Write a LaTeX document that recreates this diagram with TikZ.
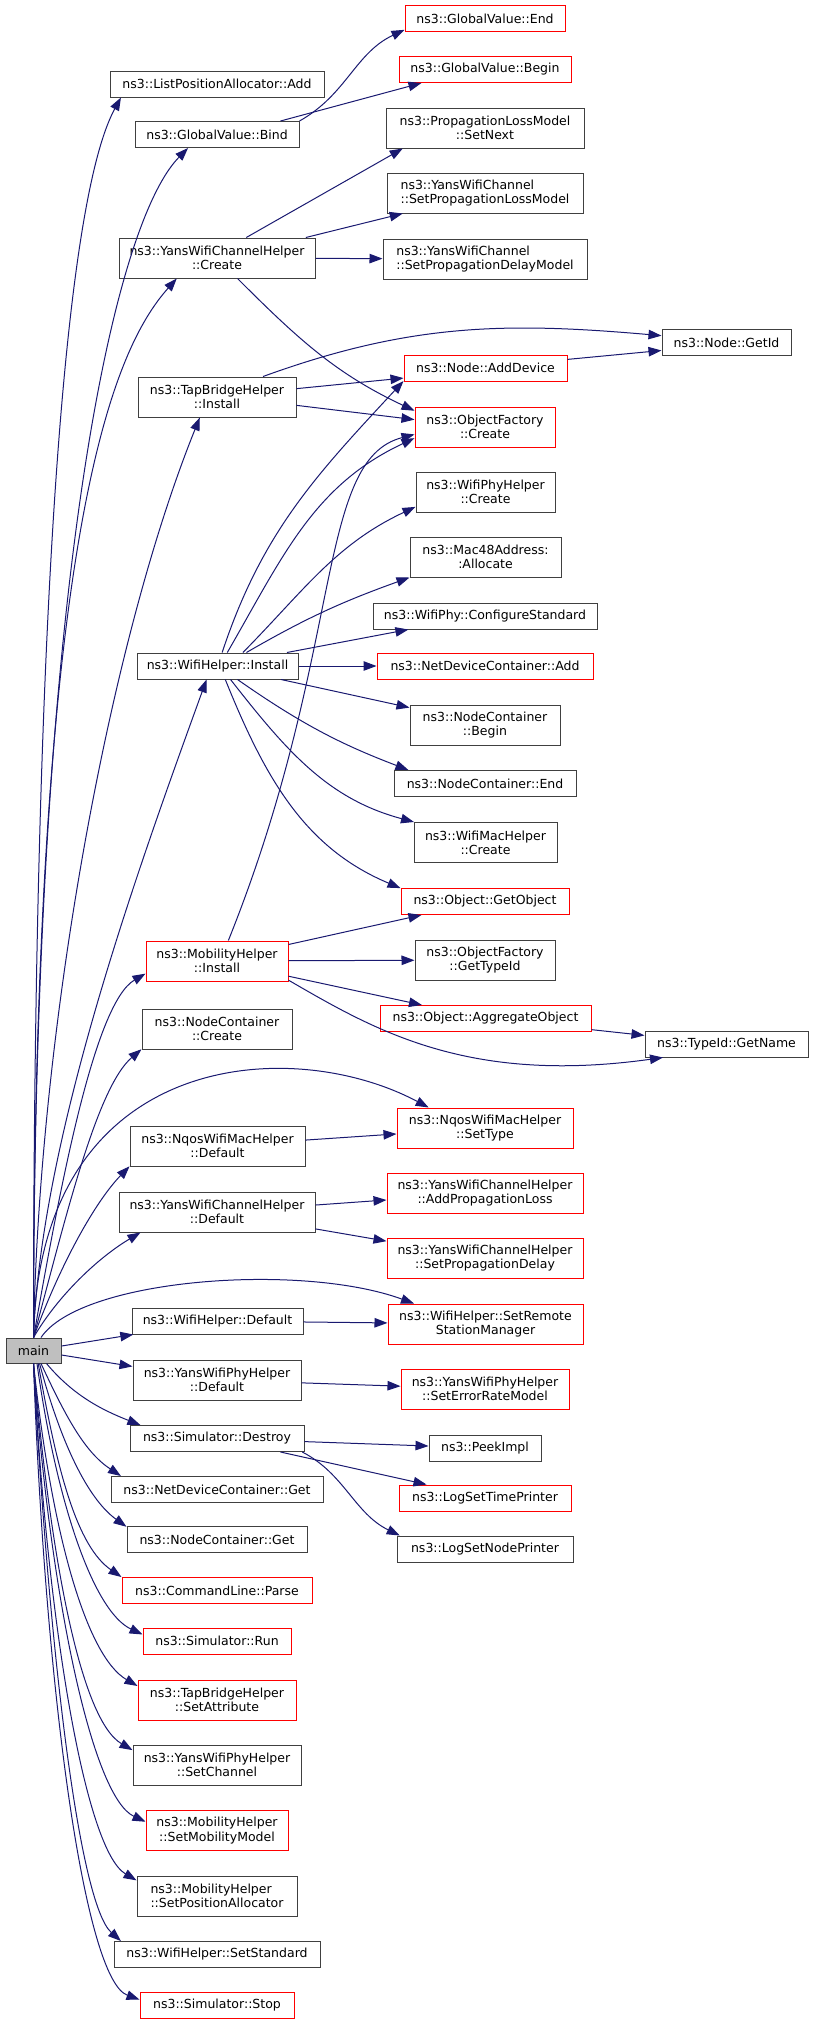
\documentclass[tikz,border=0pt]{standalone}
\usepackage{fontspec}
\setmainfont{DejaVu Sans}
\usepackage{xcolor}
\usepackage{tikz}
\usetikzlibrary{arrows.meta}
\definecolor{edgeblue}{RGB}{25,25,112}
\definecolor{boxgrey}{RGB}{64,64,64}
\definecolor{mainfill}{RGB}{191,191,191}

\begin{document}
\begin{tikzpicture}[
    x=1pt, y=1pt,
    fn/.style={draw=boxgrey, fill=white, line width=1pt, inner sep=1pt, align=center,
      minimum height=26pt, font=\fontsize{12.5}{14.3}\selectfont},
    fnred/.style={fn, draw=red},
    two/.style={minimum height=40pt},
    call/.style={-{Triangle[length=13pt,width=9.5pt]}, draw=edgeblue, line width=1pt},
  ]
  \useasboundingbox (0,0) rectangle (813,-2024);

  % Caller
  \node[fn, fill=mainfill, minimum width=55pt, minimum height=25pt] (main) at (33.5,-1350.5) {main};

  % Functions called by main
  \node[fn, minimum width=214pt] (lpa) at (217,-84) {ns3::ListPositionAllocator::Add};
  \node[fn, minimum width=164pt] (gvbind) at (217,-134.5) {ns3::GlobalValue::Bind};
  \node[fn, two, minimum width=196pt] (ywchcreate) at (217,-258) {ns3::YansWifiChannelHelper\\::Create};
  \node[fn, two, minimum width=158pt] (tbhinstall) at (217,-397) {ns3::TapBridgeHelper\\::Install};
  \node[fn, minimum width=161pt] (whinstall) at (217.5,-666) {ns3::WifiHelper::Install};
  \node[fnred, two, minimum width=142pt] (mhinstall) at (217,-961) {ns3::MobilityHelper\\::Install};
  \node[fn, two, minimum width=150pt] (nccreate) at (217,-1029) {ns3::NodeContainer\\::Create};
  \node[fn, two, minimum width=175pt] (nqosdefault) at (217.5,-1146) {ns3::NqosWifiMacHelper\\::Default};
  \node[fn, two, minimum width=196pt] (ywchdefault) at (217,-1212) {ns3::YansWifiChannelHelper\\::Default};
  \node[fn, minimum width=171pt] (whdefault) at (217.5,-1321) {ns3::WifiHelper::Default};
  \node[fn, two, minimum width=168pt] (ywphdefault) at (217,-1380) {ns3::YansWifiPhyHelper\\::Default};
  \node[fn, minimum width=174pt] (simdestroy) at (217,-1438.5) {ns3::Simulator::Destroy};
  \node[fn, minimum width=212pt] (ndcget) at (217,-1489.5) {ns3::NetDeviceContainer::Get};
  \node[fn, minimum width=180pt] (ncget) at (217,-1539.5) {ns3::NodeContainer::Get};
  \node[fnred, minimum width=190pt] (clparse) at (217,-1590.5) {ns3::CommandLine::Parse};
  \node[fnred, minimum width=148pt] (simrun) at (217,-1641) {ns3::Simulator::Run};
  \node[fnred, two, minimum width=158pt] (tbhsetattr) at (217,-1700) {ns3::TapBridgeHelper\\::SetAttribute};
  \node[fn, two, minimum width=168pt] (ywphsetch) at (217,-1765) {ns3::YansWifiPhyHelper\\::SetChannel};
  \node[fnred, two, minimum width=142pt] (mhsetmob) at (217,-1830.5) {ns3::MobilityHelper\\::SetMobilityModel};
  \node[fn, two, minimum width=160pt, align=left] (mhsetpos) at (217,-1896) {ns3::MobilityHelper\\::SetPositionAllocator};
  \node[fn, minimum width=206pt] (whsetstd) at (217,-1954.5) {ns3::WifiHelper::SetStandard};
  \node[fnred, minimum width=154pt] (simstop) at (217,-2005) {ns3::Simulator::Stop};

  % Second level
  \node[fnred, minimum width=160pt] (gvend) at (485,-18.5) {ns3::GlobalValue::End};
  \node[fnred, minimum width=172pt] (gvbegin) at (485,-69.5) {ns3::GlobalValue::Begin};
  \node[fn, two, minimum width=198pt] (plmsetnext) at (485,-128) {ns3::PropagationLossModel\\::SetNext};
  \node[fn, two, minimum width=196pt, align=left] (ywcsetloss) at (485,-193) {ns3::YansWifiChannel\\::SetPropagationLossModel};
  \node[fn, two, minimum width=204pt, align=left] (ywcsetdelay) at (485,-259) {ns3::YansWifiChannel\\::SetPropagationDelayModel};
  \node[fnred, minimum width=163pt] (adddevice) at (485.5,-368) {ns3::Node::AddDevice};
  \node[fnred, two, minimum width=140pt] (ofcreate) at (485,-427) {ns3::ObjectFactory\\::Create};
  \node[fn, two, minimum width=139pt] (wphcreate) at (485.5,-492) {ns3::WifiPhyHelper\\::Create};
  \node[fn, two, minimum width=151pt] (macalloc) at (485.5,-557) {ns3::Mac48Address:\\:Allocate};
  \node[fn, minimum width=224pt] (confstd) at (485,-616) {ns3::WifiPhy::ConfigureStandard};
  \node[fnred, minimum width=216pt] (ndcadd) at (485,-666) {ns3::NetDeviceContainer::Add};
  \node[fn, two, minimum width=150pt] (ncbegin) at (485,-725) {ns3::NodeContainer\\::Begin};
  \node[fn, minimum width=182pt] (ncend) at (485,-783.5) {ns3::NodeContainer::End};
  \node[fn, two, minimum width=143pt] (wmhcreate) at (485.5,-842.5) {ns3::WifiMacHelper\\::Create};
  \node[fnred, minimum width=168pt] (getobject) at (485,-901.5) {ns3::Object::GetObject};
  \node[fn, two, minimum width=140pt] (oftypeid) at (485,-960) {ns3::ObjectFactory\\::GetTypeId};
  \node[fnred, minimum width=211pt] (aggregate) at (485.5,-1018.5) {ns3::Object::AggregateObject};
  \node[fnred, two, minimum width=176pt] (settype) at (485,-1128) {ns3::NqosWifiMacHelper\\::SetType};
  \node[fnred, two, minimum width=196pt] (addloss) at (485,-1193) {ns3::YansWifiChannelHelper\\::AddPropagationLoss};
  \node[fnred, two, minimum width=196pt] (setdelay) at (485,-1258) {ns3::YansWifiChannelHelper\\::SetPropagationDelay};
  \node[fnred, two, minimum width=195pt] (setrsm) at (485.5,-1324) {ns3::WifiHelper::SetRemote\\StationManager};
  \node[fnred, two, minimum width=168pt] (seterm) at (485,-1389) {ns3::YansWifiPhyHelper\\::SetErrorRateModel};
  \node[fn, minimum width=112pt] (peekimpl) at (485,-1448) {ns3::PeekImpl};
  \node[fnred, minimum width=172pt] (logtime) at (485,-1498) {ns3::LogSetTimePrinter};
  \node[fn, minimum width=176pt] (lognode) at (485,-1549) {ns3::LogSetNodePrinter};

  % Third level
  \node[fn, minimum width=129pt] (getid) at (726.5,-342.5) {ns3::Node::GetId};
  \node[fn, minimum width=163pt] (getname) at (726.5,-1044) {ns3::TypeId::GetName};

  % Calls made by main, upwards
  \draw[call] (main.north) .. controls (33.5,-688) and (59.5,-210) .. (lpa.188);
  \draw[call] (main.north) .. controls (33.5,-588) and (112.4,-224.8) .. (gvbind.-155);
  \draw[call] (main.north) .. controls (33.5,-538) and (110.8,-352.3) .. (ywchcreate.-153);
  \draw[call] (main.north) .. controls (38.7,-1038) and (106.5,-648.8) .. (tbhinstall.-130);
  \draw[call] (main.north) .. controls (40.5,-1138) and (138.6,-867) .. (whinstall.-129);
  \draw[call] (main.north) .. controls (59.5,-1190.3) and (94,-1003.5) .. (mhinstall.190);
  \draw[call] (main.north) .. controls (64.6,-1222) and (96.4,-1087.6) .. (nccreate.195);
  \draw[call] (main.north) .. controls (38.5,-1050) and (290.5,-1033.9) .. (settype.160);
  \draw[call] (main.north) .. controls (60.9,-1262.8) and (95.5,-1201.4) .. (nqosdefault.193);
  \draw[call] (main.north) .. controls (58.5,-1294.7) and (99.1,-1257) .. (ywchdefault.195);
  \draw[call] (main.60) .. controls (81,-1278.3) and (301.2,-1262.3) .. (setrsm.164);
  % Calls made by main, sideways and downwards
  \draw[call] (main) -- (whdefault);
  \draw[call] (main) -- (ywphdefault);
  \draw[call] (main.-45) .. controls (71.7,-1393.6) and (99,-1408.9) .. (simdestroy.170);
  \draw[call] (main.-60) .. controls (66.1,-1417.4) and (84.7,-1452) .. (ndcget.172);
  \draw[call] (main.-65) .. controls (60,-1440.3) and (87,-1498.3) .. (ncget.172);
  \draw[call] (main.-70) .. controls (57.1,-1471.3) and (77,-1546.5) .. (clparse.north west);
  \draw[call] (main.-75) .. controls (56.3,-1501.6) and (93.2,-1611.2) .. (simrun.175);
  \draw[call] (main.south) .. controls (51.3,-1532) and (86,-1656) .. (tbhsetattr.170);
  \draw[call] (main.south) .. controls (50.9,-1562.2) and (81,-1720) .. (ywphsetch.170);
  \draw[call] (main.south) .. controls (49.5,-1592.4) and (91.6,-1796.6) .. (mhsetmob.173);
  \draw[call] (main.south) .. controls (47.1,-1622.6) and (85,-1850) .. (mhsetpos.169);
  \draw[call] (main.south) .. controls (48.2,-1642.6) and (78.5,-1903.4) .. (whsetstd.172);
  \draw[call] (main.south) .. controls (44.7,-1682.8) and (83.6,-1979.5) .. (simstop.176);

  % Calls made by the second column
  \draw[call] (gvbind.north east) .. controls (346.6,-94.5) and (355.2,-53) .. (gvend.188);
  \draw[call] (gvbind.12) -- (gvbegin.-168);
  \draw[call] (ywchcreate.35) -- (plmsetnext.-166);
  \draw[call] (ywchcreate.13) -- (ywcsetloss.-166);
  \draw[call] (ywchcreate) -- (ywcsetdelay);
  \draw[call] (ywchcreate.-45) .. controls (298.5,-339.5) and (336.2,-374) .. (ofcreate.167);
  \draw[call] (tbhinstall.24) .. controls (409.5,-323.3) and (505.6,-322) .. (getid.174);
  \draw[call] (tbhinstall.6) -- (adddevice.187);
  \draw[call] (tbhinstall.-6) -- (ofcreate.174);
  \draw[call] (whinstall.71) .. controls (262,-532) and (316.7,-474.5) .. (adddevice.189);
  \draw[call] (whinstall.54) .. controls (283,-556) and (313.5,-485.4) .. (ofcreate.189);
  \draw[call] (whinstall.28) .. controls (304.5,-590) and (335.4,-544.4) .. (wphcreate.192);
  \draw[call] (whinstall.25) .. controls (306.9,-617.5) and (343.3,-601.3) .. (macalloc.south west);
  \draw[call] (whinstall.11) -- (confstd.-170);
  \draw[call] (whinstall) -- (ndcadd);
  \draw[call] (whinstall.-12) -- (ncbegin.167);
  \draw[call] (whinstall.-34) .. controls (300.7,-723.7) and (340.8,-744.3) .. (ncend.170);
  \draw[call] (whinstall.-46) .. controls (287.1,-751.9) and (328.1,-799) .. (wmhcreate.164);
  \draw[call] (whinstall.-60) .. controls (265.6,-779.6) and (305.4,-848.3) .. (getobject.171);
  \draw[call] (mhinstall.61) .. controls (345,-650) and (315,-460) .. (ofcreate.186);
  \draw[call] (mhinstall.13) -- (getobject.-168);
  \draw[call] (mhinstall) -- (oftypeid);
  \draw[call] (mhinstall.-12) -- (aggregate.168);
  \draw[call] (mhinstall.-15) .. controls (374.6,-1030) and (467.3,-1084.8) .. (getname.-168);
  \draw[call] (nqosdefault) -- (settype);
  \draw[call] (ywchdefault) -- (addloss);
  \draw[call] (ywchdefault) -- (setdelay);
  \draw[call] (whdefault) -- (setrsm);
  \draw[call] (ywphdefault) -- (seterm);
  \draw[call] (simdestroy) -- (peekimpl);
  \draw[call] (simdestroy.-12) -- (logtime.167);
  \draw[call] (simdestroy.-9) .. controls (344.4,-1473.6) and (354.5,-1513.4) .. (lognode.171);

  % Calls made by the third column
  \draw[call] (adddevice.6) -- (getid.187);
  \draw[call] (aggregate.-6) -- (getname.174);
\end{tikzpicture}
\end{document}
